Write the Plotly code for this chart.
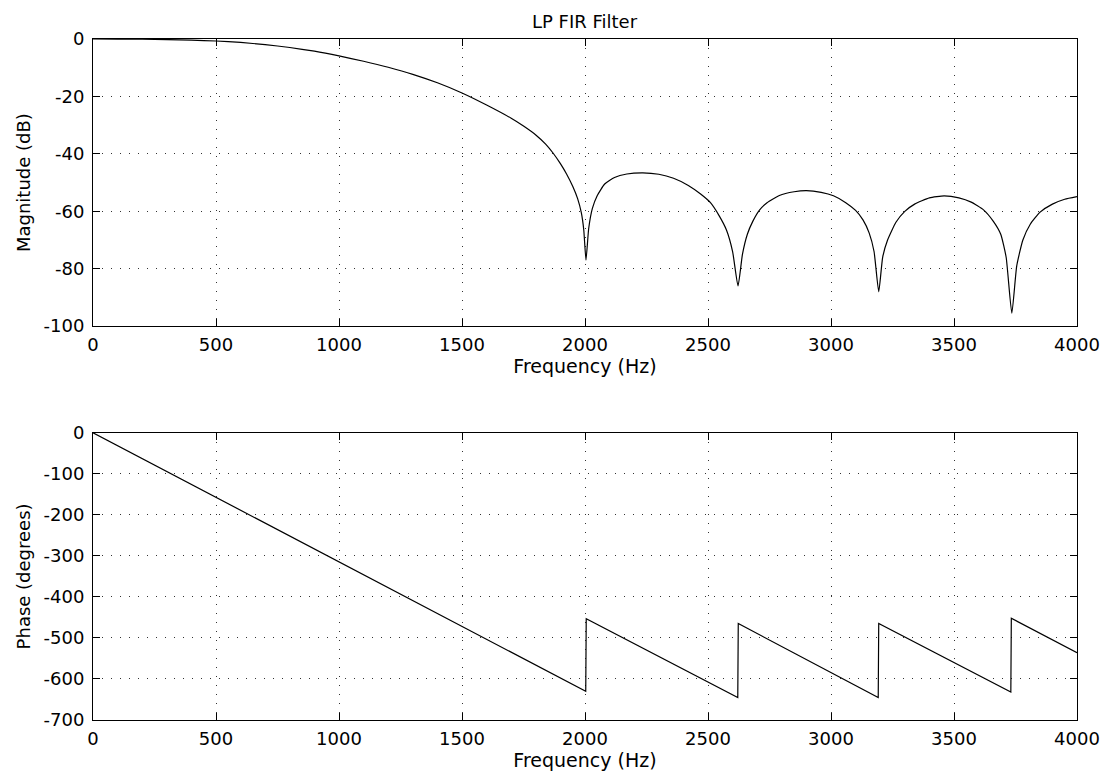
import plotly.graph_objects as go

# ---- data ----
mag_freq = [0, 100, 200, 300, 400, 500, 600, 700, 800, 900, 1000, 1100, 1200, 1300,
            1400, 1500, 1600, 1700, 1750, 1800, 1840, 1870, 1900, 1925, 1950, 1970, 1985, 1995,
            2004, 2015, 2030, 2050, 2080, 2120, 2170, 2235, 2300, 2360, 2420, 2470,
            2510, 2545, 2575, 2600, 2622, 2640, 2660, 2682, 2710, 2740, 2790, 2850,
            2900, 2960, 3010, 3060, 3100, 3130, 3155, 3175, 3194, 3210, 3230, 3264,
            3300, 3340, 3400, 3460, 3520, 3570, 3620, 3660, 3690, 3712, 3735, 3755,
            3780, 3810, 3850, 3900, 3950, 4000]
mag_db = [0, -0.02, -0.08, -0.2, -0.4, -0.7, -1.2, -1.95, -2.95, -4.25, -5.9, -7.75, -9.85, -12.3,
          -15.25, -18.8, -23.0, -27.6, -30.3, -33.4, -36.6, -39.7, -43.4, -47.0, -51.3, -55.6, -60.5, -66.5,
          -77, -66, -59, -54.5, -50.5, -48.2, -47.0, -46.6, -47.1, -48.5, -51, -54,
          -57, -61.5, -66.5, -74, -86, -75, -68, -63.5, -59.5, -57, -54.5, -53.2,
          -52.8, -53.4, -54.6, -57, -59.7, -63, -67.5, -74, -88, -76, -70, -63.8,
          -60, -57.5, -55.3, -54.6, -55.3, -56.8, -59.5, -63.5, -68, -76, -95.5, -79,
          -70, -64.5, -60.3, -57.5, -55.8, -54.9]

phase_freq = [0, 2003, 2005, 2621, 2623, 3192, 3194, 3731, 3733, 4000]
phase_deg = [0, -630, -453, -645, -465, -645, -465, -632, -452, -536]

x_ticks = [0, 500, 1000, 1500, 2000, 2500, 3000, 3500, 4000]
mag_ticks = [0, -20, -40, -60, -80, -100]
mag_tick_text = ["0", "-20", "-40", "-60", "-80", "-100"]
phase_ticks = [0, -100, -200, -300, -400, -500, -600, -700]
phase_tick_text = ["0", "-100", "-200", "-300", "-400", "-500", "-600", "-700"]

FONT = "DejaVu Sans"

fig = go.Figure()
fig.add_trace(go.Scatter(x=mag_freq, y=mag_db, mode="lines",
                         line=dict(color="black", width=1.2, shape="spline", smoothing=0.5),
                         xaxis="x", yaxis="y", showlegend=False, hoverinfo="x+y"))
fig.add_trace(go.Scatter(x=phase_freq, y=phase_deg, mode="lines",
                         line=dict(color="black", width=1.2),
                         xaxis="x2", yaxis="y2", showlegend=False, hoverinfo="x+y"))

axis_common = dict(
    showline=True, linecolor="black", linewidth=1, mirror="ticks",
    ticks="inside", ticklen=7, tickcolor="black", tickwidth=1,
    showgrid=True, gridcolor="#333", gridwidth=1, griddash="1px,8px",
    zeroline=False, tickfont=dict(family=FONT, size=18, color="black"),
)

fig.update_layout(
    width=1104, height=770,
    paper_bgcolor="white", plot_bgcolor="white",
    margin=dict(l=85, r=34, t=31, b=56),
    font=dict(family=FONT, color="black"),
    xaxis=dict(domain=[0, 1], range=[0, 4000], tickvals=x_ticks, anchor="y",
               ticklabelstandoff=2,
               title=dict(text="Frequency (Hz)", font=dict(family=FONT, size=19), standoff=4),
               **axis_common),
    yaxis=dict(domain=[0.5783, 1], range=[-100, 0], tickvals=mag_ticks, ticktext=mag_tick_text,
               anchor="x", ticklabelstandoff=4,
               title=dict(text="Magnitude (dB)", font=dict(family=FONT, size=18), standoff=8),
               **axis_common),
    xaxis2=dict(domain=[0, 1], range=[0, 4000], tickvals=x_ticks, anchor="y2",
                ticklabelstandoff=2,
                title=dict(text="Frequency (Hz)", font=dict(family=FONT, size=19), standoff=4),
                **axis_common),
    yaxis2=dict(domain=[0, 0.4217], range=[-700, 0], tickvals=phase_ticks, ticktext=phase_tick_text,
                anchor="x2", ticklabelstandoff=4,
                title=dict(text="Phase (degrees)", font=dict(family=FONT, size=18), standoff=8),
                **axis_common),
    annotations=[dict(text="LP FIR Filter", xref="paper", yref="paper", x=0.5, y=1,
                      xanchor="center", yanchor="bottom", yshift=5, showarrow=False,
                      font=dict(family=FONT, size=18, color="black"))],
)

fig.write_html("out.html")
